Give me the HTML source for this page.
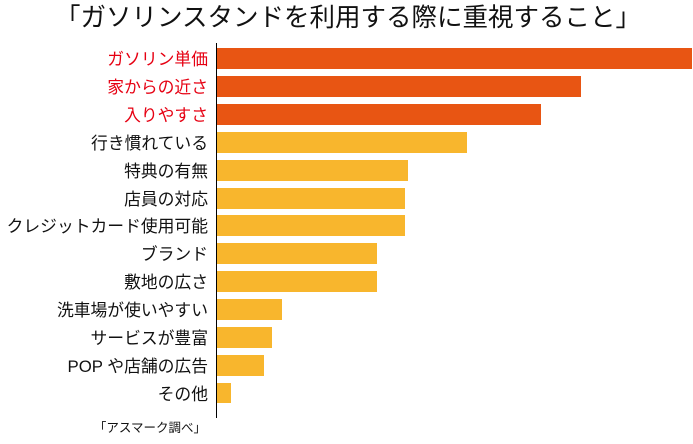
<!DOCTYPE html>
<html><head><meta charset="utf-8"><style>
body{margin:0;width:693px;height:439px;background:#fff;overflow:hidden;font-family:"Liberation Sans","Noto Sans CJK JP",sans-serif;}
</style></head><body>
<svg width="693" height="439" xmlns="http://www.w3.org/2000/svg" style="font-family:'Liberation Sans','Noto Sans CJK JP',sans-serif">
<text x="348" y="26" font-size="25.5" text-anchor="middle" fill="#111">「ガソリンスタンドを利用する際に重視すること」</text>
<g font-size="16.8" text-anchor="end">
<rect x="217" y="48" width="475" height="21" fill="#e85513"/><text x="208" y="65" fill="#e60012">ガソリン単価</text>
<rect x="217" y="76" width="364" height="21" fill="#e85513"/><text x="208" y="93" fill="#e60012">家からの近さ</text>
<rect x="217" y="104" width="324" height="21" fill="#e85513"/><text x="208" y="121" fill="#e60012">入りやすさ</text>
<rect x="217" y="132" width="250" height="21" fill="#f8b62d"/><text x="208" y="149" fill="#111">行き慣れている</text>
<rect x="217" y="160" width="191" height="21" fill="#f8b62d"/><text x="208" y="177" fill="#111">特典の有無</text>
<rect x="217" y="188" width="188" height="21" fill="#f8b62d"/><text x="208" y="205" fill="#111">店員の対応</text>
<rect x="217" y="215" width="188" height="21" fill="#f8b62d"/><text x="208" y="232" fill="#111">クレジットカード使用可能</text>
<rect x="217" y="243" width="160" height="21" fill="#f8b62d"/><text x="208" y="260" fill="#111">ブランド</text>
<rect x="217" y="271" width="160" height="21" fill="#f8b62d"/><text x="208" y="288" fill="#111">敷地の広さ</text>
<rect x="217" y="299" width="65" height="21" fill="#f8b62d"/><text x="208" y="316" fill="#111">洗車場が使いやすい</text>
<rect x="217" y="327" width="55" height="21" fill="#f8b62d"/><text x="208" y="344" fill="#111">サービスが豊富</text>
<rect x="217" y="355" width="47" height="21" fill="#f8b62d"/><text x="208" y="372" fill="#111">POP や店舗の広告</text>
<rect x="217" y="383" width="14" height="20" fill="#f8b62d"/><text x="208" y="400" fill="#111">その他</text>
</g>
<line x1="216.5" y1="43" x2="216.5" y2="418" stroke="#000" stroke-width="1"/>
<text x="206" y="432" font-size="12.5" text-anchor="end" fill="#111">「アスマーク調べ」</text>
</svg>
</body></html>
